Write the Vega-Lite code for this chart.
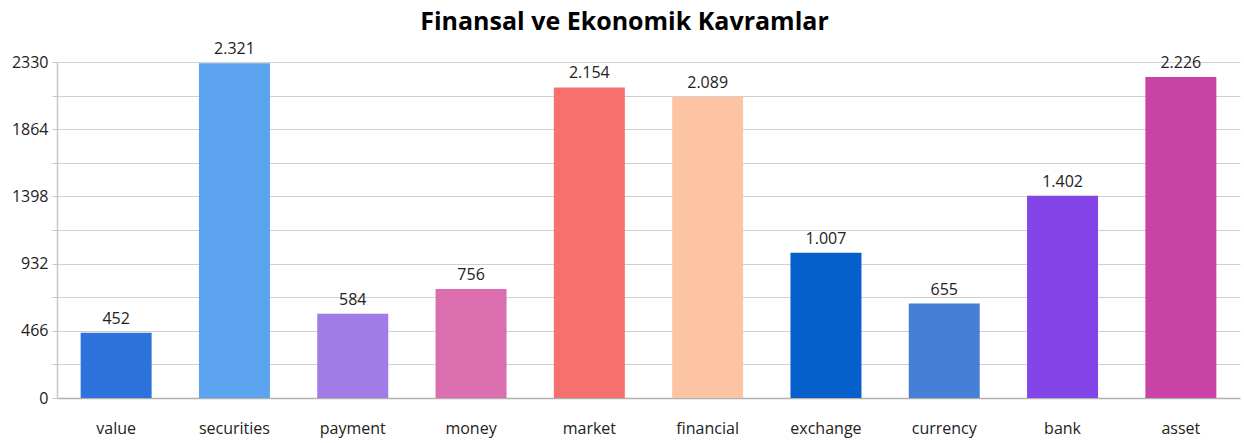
{
  "$schema": "https://vega.github.io/schema/vega-lite/v6.json",
  "autosize": {"type": "none"},
  "width": 1183,
  "height": 336,
  "padding": {"left": 57, "top": 62, "right": 4, "bottom": 45},
  "background": "white",
  "title": {
    "text": "Finansal ve Ekonomik Kavramlar",
    "font": "Open Sans",
    "fontSize": 25,
    "fontWeight": "bold",
    "color": "#000000",
    "anchor": "middle",
    "dx": -24,
    "offset": 6
  },
  "config": {
    "view": {"stroke": null},
    "locale": {"number": {"decimal": ",", "thousands": ".", "grouping": [3], "currency": ["", ""]}}
  },
  "data": {
    "values": [
      {"term": "value", "count": 452, "color": "#2E72DB"},
      {"term": "securities", "count": 2321, "color": "#5BA3EE"},
      {"term": "payment", "count": 584, "color": "#A17BE6"},
      {"term": "money", "count": 756, "color": "#DA6EAE"},
      {"term": "market", "count": 2154, "color": "#F6706D"},
      {"term": "financial", "count": 2089, "color": "#FDC4A3"},
      {"term": "exchange", "count": 1007, "color": "#0560CB"},
      {"term": "currency", "count": 655, "color": "#4680D6"},
      {"term": "bank", "count": 1402, "color": "#8445E8"},
      {"term": "asset", "count": 2226, "color": "#C942A5"}
    ]
  },
  "encoding": {
    "x": {
      "field": "term",
      "type": "nominal",
      "sort": null,
      "title": null,
      "scale": {"paddingInner": 0.4, "paddingOuter": 0.2},
      "axis": {
        "labelAngle": 0,
        "labelFont": "Open Sans",
        "labelFontSize": 16,
        "labelColor": "#222222",
        "labelPadding": 22,
        "ticks": false,
        "domainColor": "#b0b0b0",
        "domainWidth": 1.5,
        "grid": false
      }
    },
    "y": {
      "field": "count",
      "type": "quantitative",
      "title": null,
      "scale": {"domain": [0, 2330], "nice": false},
      "axis": {
        "values": [0, 233, 466, 699, 932, 1165, 1398, 1631, 1864, 2097, 2330],
        "labelExpr": "datum.value % 466 === 0 ? datum.value : ''",
        "format": "d",
        "labelFont": "Open Sans",
        "labelFontSize": 16,
        "labelColor": "#222222",
        "labelPadding": 4,
        "tickColor": "#c8c8c8",
        "tickSize": 5,
        "domainColor": "#c8c8c8",
        "domainWidth": 1.5,
        "gridColor": "#d0d0d0",
        "gridWidth": 1
      }
    }
  },
  "layer": [
    {
      "mark": {"type": "bar"},
      "encoding": {
        "color": {"field": "color", "type": "nominal", "scale": null, "legend": null}
      }
    },
    {
      "mark": {"type": "text", "baseline": "bottom", "dy": -6, "font": "Open Sans", "fontSize": 16, "color": "#222222"},
      "encoding": {
        "text": {"field": "count", "type": "quantitative", "format": ","}
      }
    }
  ]
}
